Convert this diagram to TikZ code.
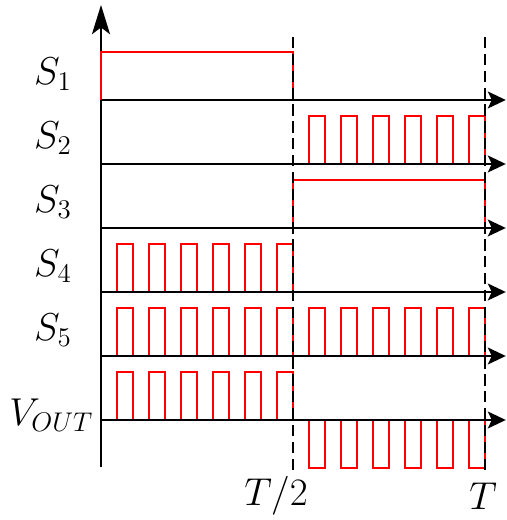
\documentclass[tikz,border=0pt]{standalone}
\usetikzlibrary{arrows.meta}

\begin{document}
\begin{tikzpicture}[x=0.5cm, y=0.5cm,
    timeaxis/.style={line width=1.1pt, black, -{Stealth[length=8pt, width=7.5pt, inset=1.8pt]}},
    pulseline/.style={line width=1.1pt, red},
    halfmark/.style={line width=1.1pt, black, dash pattern=on 5pt off 2.5pt},
    siglabel/.style={font=\LARGE, inner sep=0pt}
  ]
    \useasboundingbox (-3.156,-3.125) rectangle (12.6875,13.125);
    \draw[line width=1.1pt, -{Stealth[length=13pt, width=8pt, inset=3pt]}] (0,-1.47) -- (0,12.97);

    % switching signals
    \draw[pulseline] (0,10) -- (0,11.5) -- (6,11.5) -- (6,10);
    \foreach \k in {6,...,11}
      \draw[pulseline] (\k+0.5,8) -- (\k+0.5,9.5) -- (\k+1,9.5) -- (\k+1,8);
    \draw[pulseline] (6,6) -- (6,7.5) -- (12,7.5) -- (12,6);
    \foreach \k in {0,...,5}
      \draw[pulseline] (\k+0.5,4) -- (\k+0.5,5.5) -- (\k+1,5.5) -- (\k+1,4);
    \foreach \k in {0,...,11}
      \draw[pulseline] (\k+0.5,2) -- (\k+0.5,3.5) -- (\k+1,3.5) -- (\k+1,2);
    \foreach \k in {0,...,5}
      \draw[pulseline] (\k+0.5,0) -- (\k+0.5,1.5) -- (\k+1,1.5) -- (\k+1,0);
    \foreach \k in {6,...,11}
      \draw[pulseline] (\k+0.5,0) -- (\k+0.5,-1.5) -- (\k+1,-1.5) -- (\k+1,0);

    \foreach \y in {0,2,...,10}
      \draw[timeaxis] (0,\y) -- (12.65,\y);
    \draw[halfmark] (6,-1.56) -- (6,12.03);
    \draw[halfmark] (12,-1.56) -- (12,12.03);

    \node[siglabel] (s1) at (-1.5,10.8) {$S_1$};
    \node[siglabel] (s2) at (-1.5,8.8) {$S_2$};
    \node[siglabel] (s3) at (-1.5,6.8) {$S_3$};
    \node[siglabel] (s4) at (-1.5,4.8) {$S_4$};
    \node[siglabel] (s5) at (-1.5,2.8) {$S_5$};
    \node[siglabel] (vout) at (-1.55,0.16) {$V_{OUT}$};
    \node[siglabel] (thalf) at (5.47,-2.375) {$T/2$};
    \node[siglabel] (tfull) at (11.94,-2.375) {$T$};
  \end{tikzpicture}
\end{document}
